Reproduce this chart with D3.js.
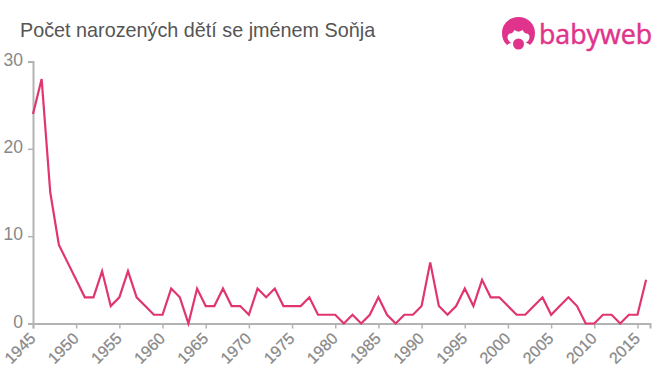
<!DOCTYPE html>
<html><head><meta charset="utf-8">
<script src="https://cdn.jsdelivr.net/npm/d3@7/dist/d3.min.js"></script>
<style>html,body{margin:0;padding:0;background:#fff}svg{display:block}text{font-family:"Liberation Sans",Arial,sans-serif}</style>
</head><body><svg id="c" width="660" height="375"></svg>
<script>
const title = "Počet narozených dětí se jménem Soňja";
const years = d3.range(1945, 2017);
const counts = [24,28,15,9,7,5,3,3,6,2,3,6,3,2,1,1,4,3,0,4,2,2,4,2,2,1,4,3,4,2,2,2,3,1,1,1,0,1,0,1,3,1,0,1,1,2,7,2,1,2,4,2,5,3,3,2,1,1,2,3,1,2,3,2,0,0,1,1,0,1,1,5];
const xTicks = d3.range(1945, 2016, 5);
const yTicks = [0,10,20,30];
const svg = d3.select("#c");
const x = d3.scaleLinear().domain([1945,2016.45]).range([33,650]);
const y = d3.scaleLinear().domain([0,30]).range([323.5,61.5]);
const axisCol = "#b3b3b3", tickCol = "#888888", lineCol = "#e0356f", logoCol = "#e0338b";
svg.append("text").attr("x",20).attr("y",36.5).attr("font-size",19.8).attr("fill","#555555").text(title);
const gx = svg.append("g").attr("transform","translate(0,323.5)")
  .call(d3.axisBottom(x).tickValues(xTicks).tickFormat(d3.format("d")).tickSizeOuter(0).tickSize(5));
gx.select(".domain").attr("stroke",axisCol).attr("stroke-width",2);
gx.selectAll(".tick line").attr("stroke",axisCol).attr("stroke-width",1.5);
gx.selectAll(".tick text").attr("fill",tickCol).attr("stroke",tickCol).attr("stroke-width",0.25).attr("font-size",16)
  .attr("text-anchor","end").attr("dx",0).attr("dy",0).attr("y",0)
  .attr("transform","translate(3,16) rotate(-45)");
const gy = svg.append("g").attr("transform","translate(33,0)")
  .call(d3.axisLeft(y).tickValues(yTicks).tickSizeOuter(0).tickSize(5));
gy.select(".domain").attr("stroke",axisCol).attr("stroke-width",2);
gy.selectAll(".tick line").attr("stroke",axisCol).attr("stroke-width",1.5);
gy.selectAll(".tick text").attr("fill",tickCol).attr("font-size",17.5).attr("x",-10).attr("dy","0.2em");
svg.append("path").datum(years.map((t,i)=>[t,counts[i]]))
  .attr("fill","none").attr("stroke",lineCol).attr("stroke-width",2.2).attr("stroke-linejoin","miter")
  .attr("d",d3.line().x(d=>x(d[0])).y(d=>y(d[1])));
// logo
const logo = svg.append("g").attr("fill",logoCol);
logo.append("path").attr("fill-rule","evenodd").attr("d","M518.500 17c-9.500 0-16.500 7-16.500 16 0 5 1.500 9 5 12 1.500-1.500 3-2 4.500-2-2.500-1.500-4-3.500-4-6 0-2 1.500-3.500 3-3.500 1.500 0 2.500-1 4-3.500 1 .8 2.500 1.500 4 1.500 1.500 0 3-.7 4-1.500 1.500 2.500 2.500 3.500 4 3.500 1.500 0 3 1.500 3 3.500 0 2.500-1.500 4.500-4 6 1.500 0 3 .5 4.500 2 3.500-3 5-7 5-12 0-9-7-16-16.500-16z");
logo.append("circle").attr("cx",518.500).attr("cy",44).attr("r",5.500);
svg.append("text").attr("x",539).attr("y",43.500).attr("font-size",26.500).attr("fill",logoCol).attr("stroke",logoCol).attr("stroke-width",0.5)
  .attr("style","font-family:'Open Sans',sans-serif").attr("textLength",113).attr("lengthAdjust","spacingAndGlyphs").text("babyweb");
</script></body></html>
